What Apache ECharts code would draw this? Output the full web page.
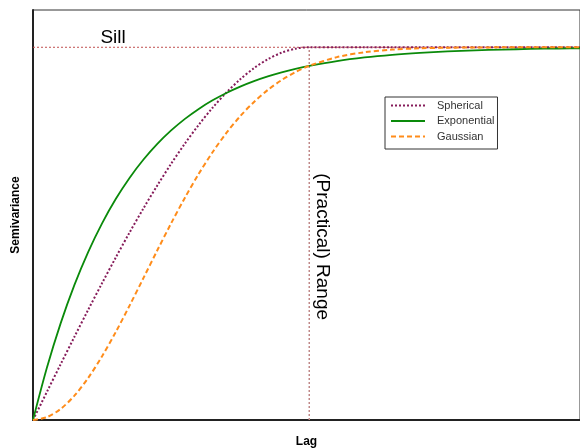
<!DOCTYPE html>
<html><head><meta charset="utf-8">
<script src="https://cdn.jsdelivr.net/npm/echarts@6/dist/echarts.min.js"></script>
<style>html,body{margin:0;padding:0;background:#fff}#c{width:580px;height:448px}</style>
</head><body><div id="c"></div>
<script>
const lag = [0,0.5,1,1.5,2,2.5,3,3.5,4,4.5,5,5.5,6,6.5,7,7.5,8,8.5,9,9.5,10,11,12,13,14,15,16,17,18,19,20];
const spherical = [0,0.0749,0.1495,0.2233,0.296,0.3672,0.4365,0.5036,0.568,0.6294,0.6875,0.7418,0.792,0.8377,0.8785,0.9141,0.944,0.9679,0.9855,0.9963,1,1,1,1,1,1,1,1,1,1,1];
const exponential = [0,0.1393,0.2592,0.3624,0.4512,0.5276,0.5934,0.6501,0.6988,0.7408,0.7769,0.808,0.8347,0.8577,0.8775,0.8946,0.9093,0.9219,0.9328,0.9422,0.9502,0.9631,0.9727,0.9798,0.985,0.9889,0.9918,0.9939,0.9955,0.9967,0.9975];
const gaussian = [0,0.0075,0.0296,0.0653,0.1131,0.171,0.2366,0.3076,0.3812,0.4553,0.5276,0.5965,0.6604,0.7185,0.7701,0.815,0.8534,0.8855,0.912,0.9333,0.9502,0.9735,0.9867,0.9937,0.9972,0.9988,0.9995,0.9998,0.9999,1,1];
const sill = 1;
const practicalRange = 10;
const lagMax = 19.8;
const seriesNames = ['Spherical','Exponential','Gaussian'];

const pair = (xs, ys) => xs.map((x, i) => [x, ys[i]]);
const chart = echarts.init(document.getElementById('c'));
const font = 'Arial, "Liberation Sans", sans-serif';
chart.setOption({
  animation: false,
  grid: {left: 33, right: 0, top: 10, bottom: 28, show: true, borderColor: '#333', borderWidth: 1,
         outerBoundsMode: 'none', containLabel: false},
  legend: {
    orient: 'vertical', left: 385, top: 97,
    data: seriesNames,
    itemWidth: 34, itemHeight: 10, itemGap: 4.5,
    padding: [3, 3, 7, 5],
    borderColor: '#333', borderWidth: 1,
    itemStyle: {opacity: 0},
    textStyle: {fontSize: 11, color: '#333', fontFamily: font, padding: [0,0,0,7]}
  },
  xAxis: {
    type: 'value', min: 0, max: lagMax,
    name: 'Lag', nameLocation: 'middle', nameGap: 16,
    nameTextStyle: {fontSize: 12, fontWeight: 'bold', color: '#000', fontFamily: font},
    axisLine: {show: true, lineStyle: {color: '#222', width: 2}},
    axisTick: {show: false}, axisLabel: {show: false}, splitLine: {show: false}
  },
  yAxis: {
    type: 'value', min: 0, max: 1.1,
    name: 'Semivariance', nameLocation: 'middle', nameGap: 11, nameRotate: 90,
    nameTextStyle: {fontSize: 12, fontWeight: 'bold', color: '#000', fontFamily: font},
    axisLine: {show: true, lineStyle: {color: '#222', width: 2}},
    axisTick: {show: false}, axisLabel: {show: false}, splitLine: {show: false}
  },
  series: [
    {name: 'sillLine', type: 'line', data: [[0, sill], [lagMax, sill]], symbol: 'none', silent: true,
     lineStyle: {color: '#c05050', width: 1, type: [2, 2]}, z: 1},
    {name: 'rangeLine', type: 'line', data: [[practicalRange, 0], [practicalRange, sill]], symbol: 'none', silent: true,
     lineStyle: {color: '#c08888', width: 1.5, type: [2, 2]}, z: 1},
    {name: 'Spherical', type: 'line', data: pair(lag, spherical), symbol: 'none', smooth: 0.3,
     itemStyle: {color: '#861c5a'}, lineStyle: {color: '#861c5a', width: 2, type: [2, 2]}, z: 3},
    {name: 'Exponential', type: 'line', data: pair(lag, exponential), symbol: 'none', smooth: 0.3,
     itemStyle: {color: '#0a8a0a'}, lineStyle: {color: '#0a8a0a', width: 1.8}, z: 3},
    {name: 'Gaussian', type: 'line', data: pair(lag, gaussian), symbol: 'none', smooth: 0.3,
     itemStyle: {color: '#ff8c1a'}, lineStyle: {color: '#ff8c1a', width: 2, type: [5, 3]}, z: 3}
  ]
});
const sillPt = chart.convertToPixel({gridIndex: 0}, [2.9, sill]);
const rngPt = chart.convertToPixel({gridIndex: 0}, [practicalRange, sill * 0.465]);
chart.setOption({
  graphic: [
    {type: 'text', x: sillPt[0], y: sillPt[1] - 10, style: {text: 'Sill', font: '19px ' + font, fill: '#000', textAlign: 'center', textVerticalAlign: 'middle'}},
    {type: 'text', x: rngPt[0] + 13, y: rngPt[1], rotation: -Math.PI / 2,
     style: {text: '(Practical) Range', font: '19px ' + font, fill: '#000', textAlign: 'center', textVerticalAlign: 'middle'}}
  ]
});
</script></body></html>
